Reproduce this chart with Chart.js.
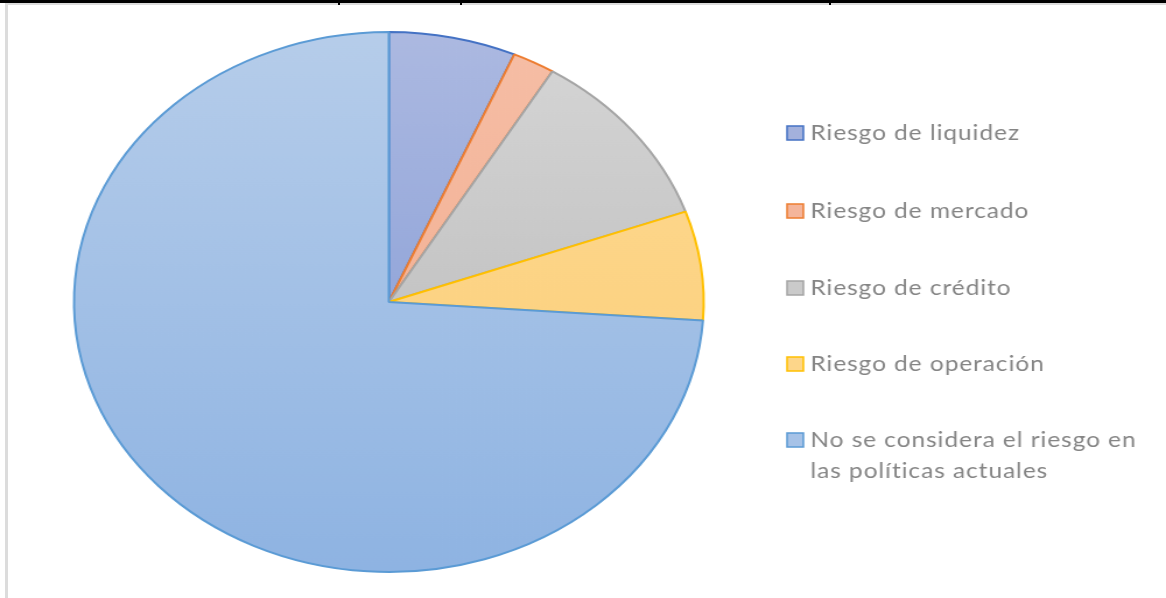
<!DOCTYPE html>
<html>
<head>
<meta charset="utf-8">
<script src="https://cdn.jsdelivr.net/npm/chart.js@4"></script>
<style>
  html, body { margin: 0; padding: 0; background: #fff; overflow: hidden; }
  #page { position: relative; width: 1166px; height: 598px; }
  #topline { position: absolute; left: 0; top: 0; width: 1166px; height: 3px; background: #000; }
  #topshade { position: absolute; left: 5px; top: 3px; width: 1161px; height: 2px; background: #dcdcdc; }
  #leftshade { position: absolute; left: 5px; top: 3px; width: 3px; height: 595px; background: #dcdcdc; }
  .tick { position: absolute; top: 3px; width: 2px; height: 2px; background: #000; }
  #wrap { position: absolute; left: 0; top: 0; width: 1000px; height: 598px;
          transform: scaleX(1.166); transform-origin: 0 0; }
</style>
</head>
<body>
<div id="page">
  <div id="topline"></div>
  <div id="topshade"></div>
  <div id="leftshade"></div>
  <div class="tick" style="left:338px"></div>
  <div class="tick" style="left:460px"></div>
  <div class="tick" style="left:829px"></div>
  <div id="wrap"><canvas id="riesgos" width="1000" height="598"></canvas></div>
</div>
<script>
var ctx = document.getElementById('riesgos')

const labels = ['Riesgo de liquidez', 'Riesgo de mercado', 'Riesgo de crédito',
  'Riesgo de operación', 'No se considera el riesgo en las políticas actuales']
const legendLines = [
  ['Riesgo de liquidez'],
  ['Riesgo de mercado'],
  ['Riesgo de crédito'],
  ['Riesgo de operación'],
  ['No se considera el riesgo en', 'las políticas actuales']
]
const respuestas = [3, 1, 5, 3, 34]

const lineColors = ['#4472C4', '#ED7D31', '#A5A5A5', '#FFC000', '#5B9BD5']
const topColors = ['#ACB9E1', '#F6BEA6', '#D6D6D6', '#FEDB95', '#B6CDEA']
const bottomColors = ['#7C95D3', '#F0A888', '#B3B3B3', '#FBCB72', '#8EB3E2']
const boxColors = ['#A3B1DC', '#F4B59B', '#CACACA', '#FDD68A', '#A6C2E7']

// vertical gradient over the whole pie, lighter on top
function sliceFill(context) {
  const i = context.dataIndex
  const area = context.chart.chartArea
  if (!area || !isFinite(area.top) || !isFinite(area.bottom)) return topColors[i]
  const cy = (area.top + area.bottom) / 2
  const r = Math.min(area.right - area.left, area.bottom - area.top) / 2
  const g = context.chart.ctx.createLinearGradient(0, cy - r, 0, cy + r)
  g.addColorStop(0, topColors[i])
  g.addColorStop(1, bottomColors[i])
  return g
}

const sideLegend = {
  id: 'sideLegend',
  afterDraw(chart) {
    const c = chart.ctx
    const rowY = [133, 211, 288, 364, 440]
    c.save()
    c.font = '21px Lato'
    c.letterSpacing = '0.8px'
    c.textBaseline = 'middle'
    legendLines.forEach((lines, i) => {
      const y = rowY[i]
      c.fillStyle = boxColors[i]
      c.fillRect(675, y - 7, 14, 14)
      c.strokeStyle = lineColors[i]
      c.lineWidth = 1.5
      c.strokeRect(675, y - 7, 14, 14)
      c.fillStyle = '#858585'
      lines.forEach((t, j) => c.fillText(t, 695, y + j * 31))
    })
    c.restore()
  }
}

var myChart = new Chart(ctx, {
  type: 'pie',
  data: {
    labels: labels,
    datasets: [{
      data: respuestas,
      backgroundColor: sliceFill,
      borderColor: lineColors,
      borderWidth: 2
    }]
  },
  options: {
    responsive: false,
    animation: false,
    layout: { padding: { top: 31, bottom: 25, left: 0, right: 333 } },
    plugins: {
      legend: { display: false },
      tooltip: { enabled: false }
    }
  },
  plugins: [sideLegend]
})
</script>
</body>
</html>
